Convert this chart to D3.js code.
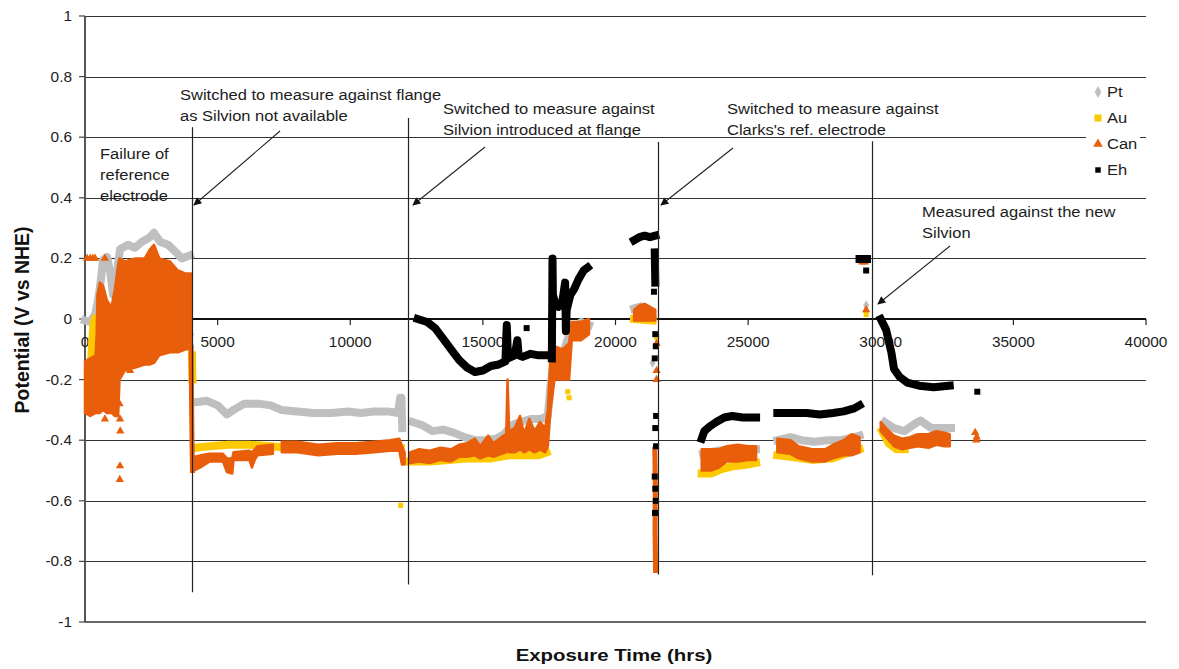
<!DOCTYPE html>
<html><head><meta charset="utf-8">
<script src="https://cdn.jsdelivr.net/npm/d3@7"></script>
<style>
html,body{margin:0;padding:0;background:#fff;}
svg{display:block;font-family:"Liberation Sans",Arial,sans-serif;}
</style></head><body>
<svg id="chart" width="1179" height="669"></svg>
<script>
// ---- axes ----
const yTicks = [1, 0.8, 0.6, 0.4, 0.2, 0, -0.2, -0.4, -0.6, -0.8, -1];
const yTickLabels = ["1", "0.8", "0.6", "0.4", "0.2", "0", "-0.2", "-0.4", "-0.6", "-0.8", "-1"];
const xTicks = [0, 5000, 10000, 15000, 20000, 25000, 30000, 35000, 40000];
const xTickLabels = ["0", "5000", "10000", "15000", "20000", "25000", "30000", "35000", "40000"];

// ---- series ----
const seriesNames = ["Pt", "Au", "Can", "Eh"];

// Pt electrode: dense runs of readings [hours, V]
const ptTracks = [
  [[0,-0.005],[190,-0.01],[380,0.015],[490,0.06],[600,0.13],[680,0.195],[830,0.205],[940,0.16],[1060,0.08],[1170,0.13],[1320,0.23],[1620,0.245],[1880,0.235],[2150,0.255],[2450,0.27],[2600,0.285],[2830,0.255],[3130,0.245],[3430,0.22],[3650,0.2],[3950,0.21]],
  [[4150,-0.275],[4600,-0.27],[5000,-0.285],[5350,-0.315],[5600,-0.3],[6000,-0.28],[6600,-0.28],[7000,-0.285],[7400,-0.3],[8000,-0.305],[8600,-0.31],[9300,-0.31],[9900,-0.305],[10400,-0.31],[10900,-0.305],[11400,-0.305],[11800,-0.31],[11880,-0.26],[11930,-0.26],[11960,-0.36]],
  [[12350,-0.34],[12700,-0.35],[13100,-0.37],[13500,-0.365],[13900,-0.375],[14300,-0.39],[14700,-0.4],[15100,-0.4],[15500,-0.395],[15800,-0.38],[16100,-0.35],[16400,-0.34],[16800,-0.33],[17200,-0.33],[17450,-0.32],[17550,-0.22],[17700,-0.12],[18000,-0.12],[18300,-0.04],[18700,-0.01],[19000,-0.02]],
  [[20700,0.035],[20900,0.04]],
  [[23300,-0.445],[23800,-0.435],[24400,-0.43],[25000,-0.43],[25300,-0.43]],
  [[26100,-0.4],[26600,-0.39],[27000,-0.4],[27500,-0.405],[28000,-0.4],[28500,-0.4],[29000,-0.39],[29200,-0.385]],
  [[30150,-0.34],[30500,-0.36],[30900,-0.37],[31300,-0.345],[31500,-0.335],[31900,-0.36],[32300,-0.36],[32650,-0.36]]
];
const ptPoints = [[4000,-0.05],[4020,-0.09],[4040,-0.13],[21400,-0.145],[29450,0.045]];

// Au electrode
const auTracks = [
  [[230,-0.14],[260,-0.09],[300,-0.04],[330,-0.01],[380,0.0]],
  [[4030,-0.12],[4050,-0.2]],
  [[4150,-0.425],[4700,-0.42],[5400,-0.415],[6200,-0.415],[7000,-0.42],[7600,-0.425],[8500,-0.43],[9500,-0.43],[10500,-0.425],[11500,-0.42],[11900,-0.425]],
  [[12250,-0.47],[13000,-0.47],[13700,-0.465],[14500,-0.46],[15300,-0.46],[16000,-0.45],[16600,-0.45],[17100,-0.45],[17400,-0.44]],
  [[20700,0.0],[21400,-0.005]],
  [[23250,-0.51],[23600,-0.51],[24000,-0.495],[24500,-0.485],[25000,-0.48],[25300,-0.475]],
  [[26100,-0.45],[26600,-0.455],[27400,-0.465],[28200,-0.46],[28800,-0.44],[29200,-0.43]],
  [[30050,-0.37],[30300,-0.41],[30600,-0.43],[30900,-0.43]]
];
const auPoints = [[11900,-0.615],[18200,-0.24],[18250,-0.26],[21550,-0.06],[29450,0.015]];

// Can electrode: scatter spread per run [hours, low V, high V]
const canBands = [
  [[0,-0.31,-0.14],[200,-0.32,-0.13],[400,-0.31,-0.12],[440,-0.31,-0.05],[470,-0.31,0.08],[560,-0.31,0.12],[680,-0.3,0.11],[830,-0.31,0.06],[1000,-0.31,0.04],[1130,-0.32,0.1],[1250,-0.32,0.18],[1300,-0.2,0.2],[1500,-0.17,0.19],[1900,-0.16,0.2],[2250,-0.15,0.2],[2450,-0.15,0.23],[2600,-0.145,0.245],[2800,-0.12,0.2],[3200,-0.11,0.19],[3500,-0.11,0.16],[3800,-0.1,0.15],[4000,-0.1,0.15]],
  [[4100,-0.5,-0.455],[4350,-0.49,-0.45],[4700,-0.47,-0.445],[5200,-0.47,-0.445],[5350,-0.505,-0.46],[5550,-0.51,-0.46],[5600,-0.465,-0.44],[6200,-0.465,-0.435],[6290,-0.49,-0.44],[6400,-0.465,-0.43],[6500,-0.45,-0.42],[7080,-0.445,-0.415]],
  [[7420,-0.44,-0.405],[8000,-0.44,-0.405],[8800,-0.45,-0.415],[9500,-0.445,-0.41],[10200,-0.445,-0.41],[10900,-0.44,-0.405],[11500,-0.435,-0.4],[11850,-0.435,-0.395],[11950,-0.48,-0.42],[12050,-0.48,-0.44]],
  [[12250,-0.475,-0.44],[12600,-0.47,-0.43],[13000,-0.475,-0.435],[13400,-0.465,-0.425],[13800,-0.47,-0.43],[14100,-0.455,-0.415],[14400,-0.455,-0.41],[14700,-0.45,-0.395],[14900,-0.46,-0.42],[15200,-0.45,-0.385],[15400,-0.455,-0.41],[15700,-0.445,-0.39],[15880,-0.44,-0.38],[15930,-0.43,-0.2],[15990,-0.44,-0.37],[16200,-0.44,-0.36],[16400,-0.43,-0.32],[16550,-0.44,-0.38],[16750,-0.43,-0.33],[16950,-0.44,-0.37],[17150,-0.43,-0.34],[17350,-0.44,-0.36],[17450,-0.42,-0.3],[17550,-0.3,-0.12],[17700,-0.2,-0.09],[18000,-0.2,-0.1],[18250,-0.2,-0.08],[18350,-0.07,-0.01],[18700,-0.07,-0.01],[19000,-0.05,0.0]],
  [[20700,-0.005,0.03],[20900,-0.005,0.045],[21100,-0.005,0.05],[21300,-0.005,0.04],[21500,-0.005,0.03]],
  [[23250,-0.5,-0.43],[23600,-0.5,-0.43],[23900,-0.49,-0.43],[24200,-0.47,-0.42],[24600,-0.47,-0.415],[25000,-0.465,-0.42],[25300,-0.465,-0.42]],
  [[26100,-0.44,-0.395],[26600,-0.445,-0.4],[26900,-0.46,-0.42],[27400,-0.47,-0.43],[27900,-0.47,-0.43],[28200,-0.46,-0.415],[28600,-0.45,-0.4],[28900,-0.45,-0.38],[29200,-0.44,-0.39]],
  [[30000,-0.37,-0.34],[30200,-0.39,-0.36],[30500,-0.42,-0.385],[30800,-0.43,-0.395],[31100,-0.425,-0.39],[31400,-0.42,-0.38],[31800,-0.425,-0.38],[32100,-0.415,-0.37],[32400,-0.42,-0.375],[32600,-0.42,-0.38]]
];
const canTracks = [
  [[4000,-0.1],[4020,-0.3],[4050,-0.5]],
  [[21480,-0.43],[21500,-0.55],[21490,-0.7],[21510,-0.83]]
];
const canPoints = [[80,0.2],[200,0.2],[300,0.2],[380,0.2],[750,0.2],[750,-0.33],[1300,-0.28],[1320,-0.33],[1330,-0.37],[1700,-0.17],[1320,-0.485],[1310,-0.53],[21550,-0.08],[21550,-0.17],[21550,-0.2],[29450,0.03],[29300,0.188],[29400,0.188],[33560,-0.375],[33620,-0.39],[33600,-0.4]];

// Eh (reference potential)
const ehTracks = [
  [[12540,0.0],[12900,-0.01],[13200,-0.03],[13500,-0.065],[13800,-0.1],[14100,-0.135],[14400,-0.16],[14700,-0.175],[15000,-0.17],[15300,-0.155],[15600,-0.15],[15850,-0.14],[15900,-0.02],[15950,-0.13],[16200,-0.12],[16300,-0.07],[16350,-0.12],[16500,-0.125],[16800,-0.115],[17100,-0.12],[17400,-0.12],[17560,-0.12]],
  [[17600,-0.13],[17610,0.0],[17625,0.2],[17640,0.08],[17700,0.06],[17850,0.04],[18000,0.06],[18100,0.12],[18130,-0.04],[18160,0.03],[18300,0.08],[18450,0.1],[18600,0.13],[18800,0.16],[18950,0.17]],
  [[20700,0.26],[20900,0.27],[21100,0.275],[21300,0.27],[21500,0.275]],
  [[21480,0.22],[21490,0.17],[21500,0.12]],
  [[23250,-0.395],[23350,-0.37],[23550,-0.355],[23800,-0.34],[24100,-0.325],[24400,-0.32],[24800,-0.325],[25300,-0.325]],
  [[26100,-0.31],[26600,-0.31],[27200,-0.31],[27700,-0.315],[28200,-0.31],[28600,-0.305],[29000,-0.295],[29200,-0.285]],
  [[29200,0.198],[29480,0.198]],
  [[30000,0.0],[30200,-0.035],[30400,-0.11],[30500,-0.165],[30700,-0.19],[31000,-0.21],[31450,-0.22],[32000,-0.225],[32600,-0.22]]
];
const ehPoints = [[16650,-0.03],[21450,0.09],[21500,-0.05],[21520,-0.09],[21480,-0.13],[21530,-0.32],[21500,-0.36],[21530,-0.42],[21480,-0.52],[21500,-0.56],[21520,-0.6],[21490,-0.64],[29450,0.16],[33640,-0.24]];

// switch-over events (hours)
const eventTimes = [4030, 12170, 21620, 29680];

// ---- drawing ----
const svg = d3.select("#chart");
const x = d3.scaleLinear().domain([0, 40000]).range([85, 1146]);
const y = d3.scaleLinear().domain([-1, 1]).range([622, 16]);
const SX = 1.1;
const ink = "#1c1c1c";

function label(sel, px, py, s, o = {}) {
  return sel.append("text")
    .attr("transform", `translate(${px},${py}) scale(${o.sx || SX},1)`)
    .attr("font-size", o.size || 15)
    .attr("font-weight", o.weight || "normal")
    .attr("text-anchor", o.anchor || "start")
    .attr("fill", o.fill || ink)
    .text(s);
}

// gridlines
svg.append("g").selectAll("line").data(yTicks.filter(v => v !== 0 && v !== -1)).join("line")
  .attr("x1", x(0)).attr("x2", x(40000))
  .attr("y1", d => Math.round(y(d)) + 0.5).attr("y2", d => Math.round(y(d)) + 0.5)
  .attr("stroke", "#333").attr("stroke-width", 1.2);

// bottom edge and value axis
svg.append("line").attr("x1", x(0)).attr("x2", x(40000)).attr("y1", y(-1)).attr("y2", y(-1))
  .attr("stroke", "#666").attr("stroke-width", 2);
svg.append("line").attr("x1", x(0)).attr("x2", x(0)).attr("y1", y(1)).attr("y2", y(-1))
  .attr("stroke", "#555").attr("stroke-width", 2);

// y ticks + labels
const yAxis = svg.append("g");
yTicks.forEach((v, i) => {
  yAxis.append("line").attr("x1", x(0) - 6).attr("x2", x(0)).attr("y1", y(v)).attr("y2", y(v))
    .attr("stroke", "#444").attr("stroke-width", 1.2);
  label(yAxis, 72, y(v) + 5, yTickLabels[i], { size: 14, anchor: "end" });
});

// category axis at zero
svg.append("line").attr("x1", x(0)).attr("x2", x(40000)).attr("y1", y(0)).attr("y2", y(0))
  .attr("stroke", "#111").attr("stroke-width", 2.2);
const xAxis = svg.append("g");
xTicks.forEach((t, i) => {
  xAxis.append("line").attr("x1", x(t)).attr("x2", x(t)).attr("y1", y(0)).attr("y2", y(0) + 6)
    .attr("stroke", "#222").attr("stroke-width", 1.2);
  label(xAxis, x(t), y(0) + 28, xTickLabels[i], { size: 14, anchor: "middle" });
});

// axis titles
label(svg, 614, 661, "Exposure Time (hrs)", { size: 17, sx: 1.2, weight: "bold", anchor: "middle", fill: "#111" });
svg.append("text").attr("transform", "translate(29,320) rotate(-90) scale(1.08,1.12)")
  .attr("font-size", 18).attr("font-weight", "bold").attr("text-anchor", "middle").attr("fill", "#111")
  .text("Potential (V vs NHE)");

// series
const lineGen = d3.line().x(d => x(d[0])).y(d => y(d[1]));
const areaGen = d3.area().x(d => x(d[0])).y0(d => y(d[1])).y1(d => y(d[2]));
const colors = { Pt: "#bfbfbf", Au: "#fcc800", Can: "#e95e0b", Eh: "#000000" };
const plot = svg.append("g");

function tracks(data, color, w) {
  plot.append("g").selectAll("path").data(data).join("path")
    .attr("d", lineGen).attr("fill", "none").attr("stroke", color)
    .attr("stroke-width", w).attr("stroke-linejoin", "round").attr("stroke-linecap", "square");
}
function points(data, color, type, size) {
  plot.append("g").selectAll("path").data(data).join("path")
    .attr("transform", d => `translate(${x(d[0])},${y(d[1])})`)
    .attr("d", d3.symbol().type(type).size(size)).attr("fill", color);
}

tracks(ptTracks, colors.Pt, 8);
points(ptPoints, colors.Pt, d3.symbolDiamond, 30);

tracks(auTracks, colors.Au, 8);
points(auPoints, colors.Au, d3.symbolSquare, 26);

plot.append("g").selectAll("path").data(canBands).join("path")
  .attr("d", areaGen).attr("fill", colors.Can).attr("stroke", colors.Can)
  .attr("stroke-width", 2.5).attr("stroke-linejoin", "round");
tracks(canTracks, colors.Can, 5);
points(canPoints, colors.Can, d3.symbolTriangle, 30);

tracks(ehTracks, colors.Eh, 8);
points(ehPoints, colors.Eh, d3.symbolSquare, 36);

// event markers and notes
const notes = svg.append("g");
const eventSpan = [[0.633, -0.902], [0.663, -0.876], [0.584, -0.843], [0.587, -0.846]];
eventTimes.forEach((t, i) => {
  notes.append("line").attr("x1", Math.round(x(t)) + 0.5).attr("x2", Math.round(x(t)) + 0.5)
    .attr("y1", y(eventSpan[i][0])).attr("y2", y(eventSpan[i][1]))
    .attr("stroke", "#222").attr("stroke-width", 1.2);
});

svg.append("defs").append("marker").attr("id", "head")
  .attr("viewBox", "0 0 10 10").attr("refX", 9).attr("refY", 5)
  .attr("markerWidth", 10).attr("markerHeight", 8).attr("markerUnits", "userSpaceOnUse")
  .attr("orient", "auto")
  .append("path").attr("d", "M0,0L10,5L0,10z").attr("fill", "#111");

const arrows = [
  [[280, 131], [194, 205]],
  [[485, 147], [413, 205]],
  [[733, 148], [661, 205]],
  [[950, 246], [878, 304]]
];
arrows.forEach(a => {
  notes.append("line").attr("x1", a[0][0]).attr("y1", a[0][1]).attr("x2", a[1][0]).attr("y2", a[1][1])
    .attr("stroke", "#222").attr("stroke-width", 1.1).attr("marker-end", "url(#head)");
});

const noteText = [
  [100, 159, "Failure of"], [100, 180, "reference"], [100, 201, "electrode"],
  [180, 100, "Switched to measure against flange"], [180, 121, "as Silvion not available"],
  [443, 114, "Switched to measure against"], [443, 135, "Silvion introduced at flange"],
  [727, 114, "Switched to measure against"], [727, 135, "Clarks's ref. electrode"],
  [922, 217, "Measured against the new"], [922, 238, "Silvion"]
];
noteText.forEach(n => label(notes, n[0], n[1], n[2], { size: 15 }));

// legend
const leg = svg.append("g");
leg.append("rect").attr("x", 1086).attr("y", 80).attr("width", 54).attr("height", 114).attr("fill", "#fff");
const legTypes = [d3.symbolDiamond, d3.symbolSquare, d3.symbolTriangle, d3.symbolSquare];
const legSizes = [40, 50, 40, 30];
seriesNames.forEach((s, i) => {
  const cy = 92 + i * 26;
  leg.append("path").attr("transform", `translate(1098,${cy})`)
    .attr("d", d3.symbol().type(legTypes[i]).size(legSizes[i])).attr("fill", colors[s]);
  label(leg, 1107, cy + 5, s, { size: 15 });
});
</script>
</body></html>
